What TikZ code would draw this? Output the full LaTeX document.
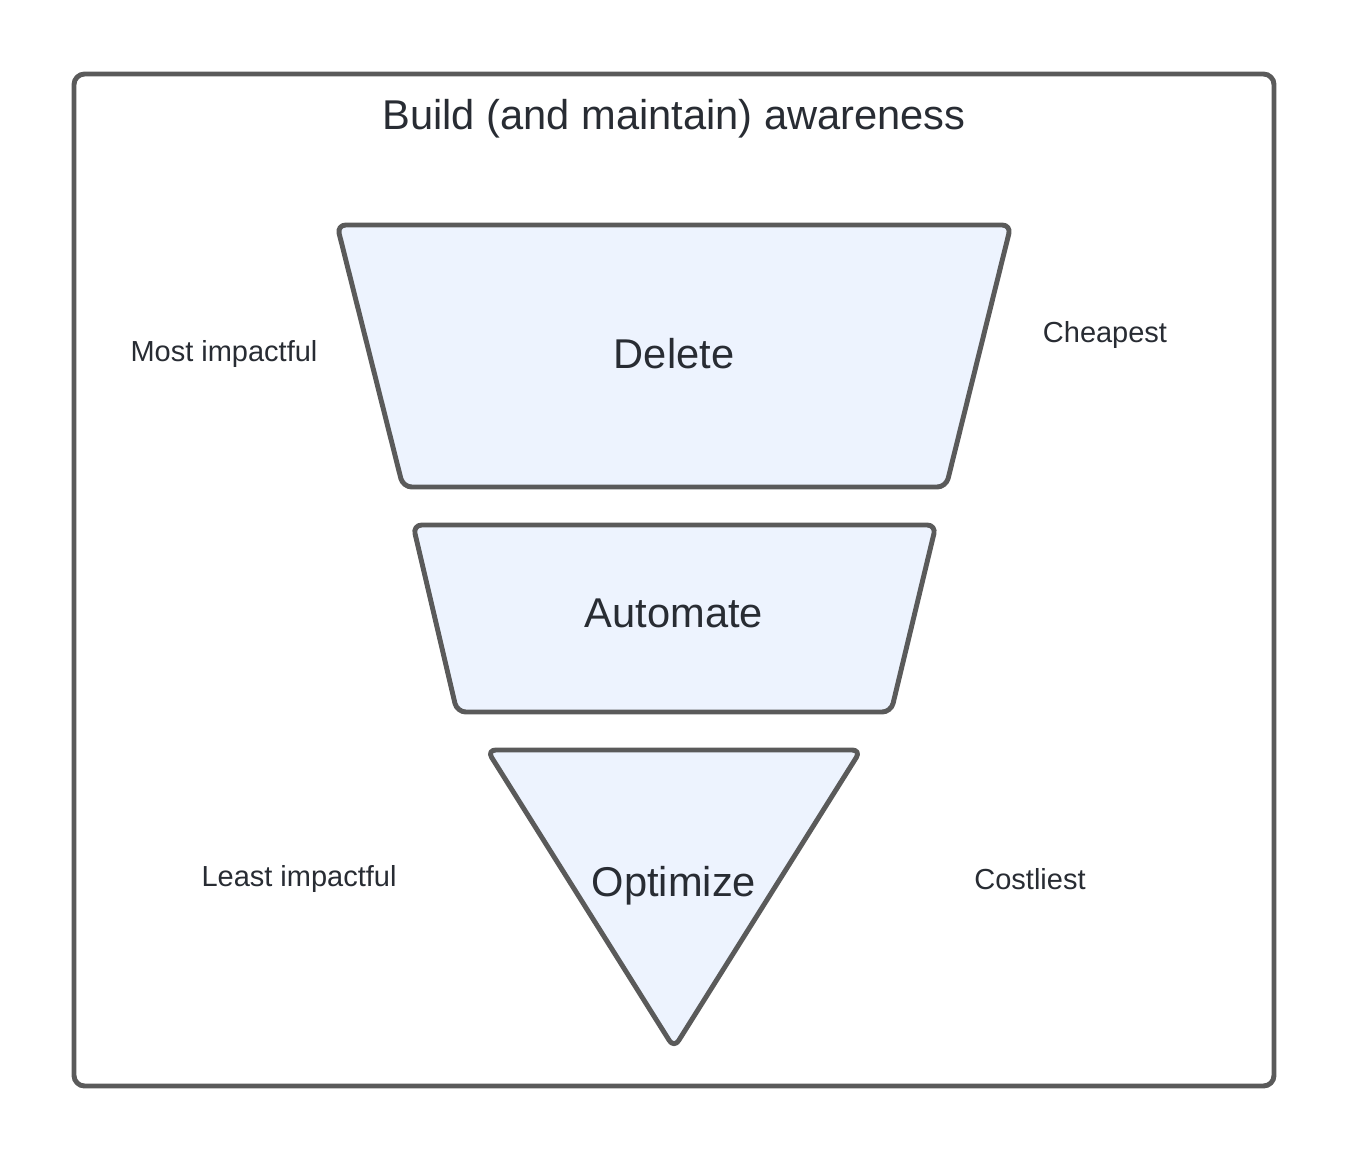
\documentclass[tikz,border=0pt]{standalone}
\usepackage{fontspec}
\setmainfont{Liberation Sans}
\usepackage{xcolor}
\definecolor{edgegray}{HTML}{5A5A5A}
\definecolor{levelfill}{HTML}{EDF3FE}
\definecolor{textgray}{HTML}{282C33}

\begin{document}
\begin{tikzpicture}[x=0.02cm,y=-0.02cm,line width=2.8pt,line join=round,
    level/.style={draw=edgegray,fill=levelfill,rounded corners=5pt},
    big label/.style={text=textgray,font=\fontsize{23.7}{28}\selectfont},
    side label/.style={text=textgray,font=\fontsize{16.5}{19}\selectfont}]
                \useasboundingbox (0,0) rectangle (1350,1163);
                \draw[draw=edgegray,rounded corners=6pt] (74,74) rectangle (1274,1086);

                \draw[level] (337,225) -- (1011,225) -- (946,487) -- (403,487) -- cycle;
                \draw[level] (413,525) -- (936,525) -- (891,712) -- (457,712) -- cycle;
                \draw[level] (487,750) -- (861,750) -- (674,1048) -- cycle;

                \node[big label] (title) at (674,119) {Build (and maintain) awareness};
                \node[big label] (delete) at (674,354) {Delete};
                \node[big label] (automate) at (674,613) {Automate};
                \node[big label] (optimize) at (674,886) {Optimize};

                \node[side label] (most) at (224,354) {Most impactful};
                \node[side label] (cheap) at (1105,335) {Cheapest};
                \node[side label] (least) at (299,879) {Least impactful};
                \node[side label] (cost) at (1030,879) {Costliest};
            \end{tikzpicture}
\end{document}
